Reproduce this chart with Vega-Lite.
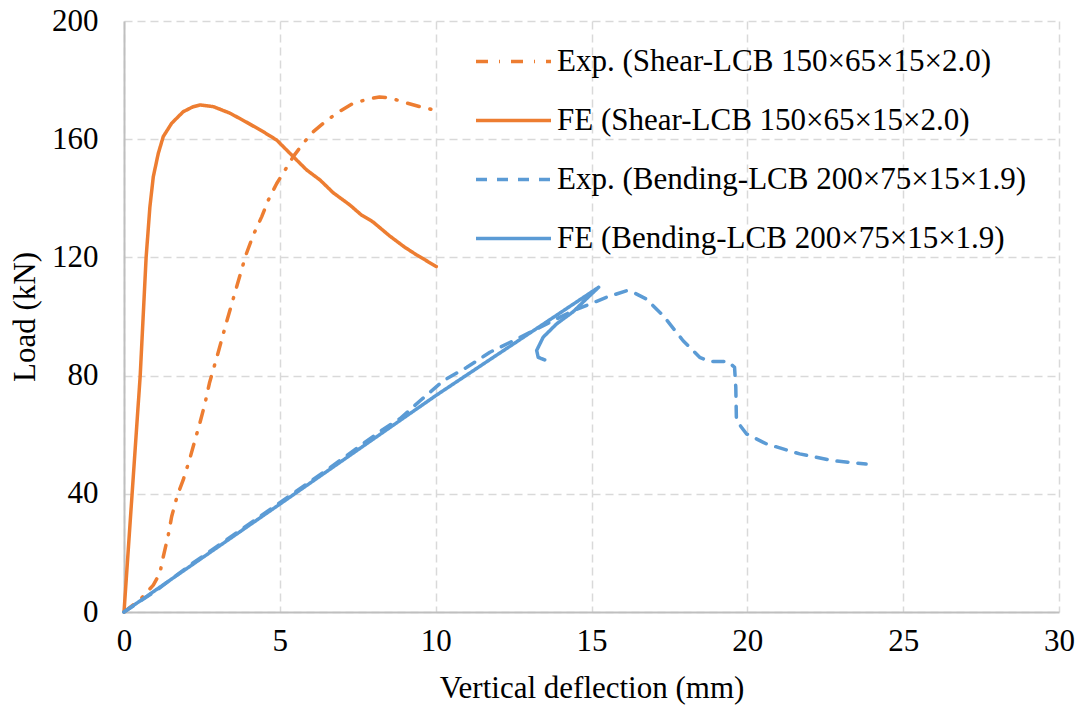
{
  "$schema": "https://vega.github.io/schema/vega-lite/v6.json",
  "width": 935,
  "height": 591,
  "autosize": {"type": "none"},
  "padding": {"left": 124, "top": 21, "right": 22, "bottom": 99},
  "background": "white",
  "data": {"values": [
    {"s": "Exp. (Shear-LCB 150×65×15×2.0)", "i": 0, "d": 0, "load": 0},
    {"s": "Exp. (Shear-LCB 150×65×15×2.0)", "i": 1, "d": 0.51, "load": 4.1},
    {"s": "Exp. (Shear-LCB 150×65×15×2.0)", "i": 2, "d": 0.94, "load": 9.1},
    {"s": "Exp. (Shear-LCB 150×65×15×2.0)", "i": 3, "d": 1.15, "load": 13.1},
    {"s": "Exp. (Shear-LCB 150×65×15×2.0)", "i": 4, "d": 1.26, "load": 18.7},
    {"s": "Exp. (Shear-LCB 150×65×15×2.0)", "i": 5, "d": 1.42, "load": 26},
    {"s": "Exp. (Shear-LCB 150×65×15×2.0)", "i": 6, "d": 1.53, "load": 32.3},
    {"s": "Exp. (Shear-LCB 150×65×15×2.0)", "i": 7, "d": 1.71, "load": 39.4},
    {"s": "Exp. (Shear-LCB 150×65×15×2.0)", "i": 8, "d": 1.9, "load": 44.7},
    {"s": "Exp. (Shear-LCB 150×65×15×2.0)", "i": 9, "d": 2.11, "load": 51.8},
    {"s": "Exp. (Shear-LCB 150×65×15×2.0)", "i": 10, "d": 2.28, "load": 58.2},
    {"s": "Exp. (Shear-LCB 150×65×15×2.0)", "i": 11, "d": 2.44, "load": 64.2},
    {"s": "Exp. (Shear-LCB 150×65×15×2.0)", "i": 12, "d": 2.6, "load": 70.6},
    {"s": "Exp. (Shear-LCB 150×65×15×2.0)", "i": 13, "d": 2.74, "load": 77.4},
    {"s": "Exp. (Shear-LCB 150×65×15×2.0)", "i": 14, "d": 3.0, "load": 87},
    {"s": "Exp. (Shear-LCB 150×65×15×2.0)", "i": 15, "d": 3.3, "load": 98.5},
    {"s": "Exp. (Shear-LCB 150×65×15×2.0)", "i": 16, "d": 3.6, "load": 109.5},
    {"s": "Exp. (Shear-LCB 150×65×15×2.0)", "i": 17, "d": 3.91, "load": 120.8},
    {"s": "Exp. (Shear-LCB 150×65×15×2.0)", "i": 18, "d": 4.15, "load": 127.6},
    {"s": "Exp. (Shear-LCB 150×65×15×2.0)", "i": 19, "d": 4.42, "load": 133.8},
    {"s": "Exp. (Shear-LCB 150×65×15×2.0)", "i": 20, "d": 4.63, "load": 139.4},
    {"s": "Exp. (Shear-LCB 150×65×15×2.0)", "i": 21, "d": 4.9, "load": 145},
    {"s": "Exp. (Shear-LCB 150×65×15×2.0)", "i": 22, "d": 5.17, "load": 149.6},
    {"s": "Exp. (Shear-LCB 150×65×15×2.0)", "i": 23, "d": 5.43, "load": 154.1},
    {"s": "Exp. (Shear-LCB 150×65×15×2.0)", "i": 24, "d": 5.75, "load": 158.6},
    {"s": "Exp. (Shear-LCB 150×65×15×2.0)", "i": 25, "d": 6.07, "load": 162.5},
    {"s": "Exp. (Shear-LCB 150×65×15×2.0)", "i": 26, "d": 6.5, "load": 166.3},
    {"s": "Exp. (Shear-LCB 150×65×15×2.0)", "i": 27, "d": 6.9, "load": 169.3},
    {"s": "Exp. (Shear-LCB 150×65×15×2.0)", "i": 28, "d": 7.35, "load": 172.1},
    {"s": "Exp. (Shear-LCB 150×65×15×2.0)", "i": 29, "d": 7.8, "load": 173.5},
    {"s": "Exp. (Shear-LCB 150×65×15×2.0)", "i": 30, "d": 8.2, "load": 174.3},
    {"s": "Exp. (Shear-LCB 150×65×15×2.0)", "i": 31, "d": 8.52, "load": 174},
    {"s": "Exp. (Shear-LCB 150×65×15×2.0)", "i": 32, "d": 9.06, "load": 172.3},
    {"s": "Exp. (Shear-LCB 150×65×15×2.0)", "i": 33, "d": 9.5, "load": 171},
    {"s": "Exp. (Shear-LCB 150×65×15×2.0)", "i": 34, "d": 9.9, "load": 170},

    {"s": "FE (Shear-LCB 150×65×15×2.0)", "i": 0, "d": 0, "load": 0},
    {"s": "FE (Shear-LCB 150×65×15×2.0)", "i": 1, "d": 0.26, "load": 40},
    {"s": "FE (Shear-LCB 150×65×15×2.0)", "i": 2, "d": 0.52, "load": 80},
    {"s": "FE (Shear-LCB 150×65×15×2.0)", "i": 3, "d": 0.71, "load": 120},
    {"s": "FE (Shear-LCB 150×65×15×2.0)", "i": 4, "d": 0.83, "load": 137},
    {"s": "FE (Shear-LCB 150×65×15×2.0)", "i": 5, "d": 0.94, "load": 147.3},
    {"s": "FE (Shear-LCB 150×65×15×2.0)", "i": 6, "d": 1.1, "load": 155.2},
    {"s": "FE (Shear-LCB 150×65×15×2.0)", "i": 7, "d": 1.26, "load": 160.9},
    {"s": "FE (Shear-LCB 150×65×15×2.0)", "i": 8, "d": 1.53, "load": 165.4},
    {"s": "FE (Shear-LCB 150×65×15×2.0)", "i": 9, "d": 1.9, "load": 169.3},
    {"s": "FE (Shear-LCB 150×65×15×2.0)", "i": 10, "d": 2.2, "load": 170.9},
    {"s": "FE (Shear-LCB 150×65×15×2.0)", "i": 11, "d": 2.44, "load": 171.6},
    {"s": "FE (Shear-LCB 150×65×15×2.0)", "i": 12, "d": 2.87, "load": 171},
    {"s": "FE (Shear-LCB 150×65×15×2.0)", "i": 13, "d": 3.4, "load": 168.8},
    {"s": "FE (Shear-LCB 150×65×15×2.0)", "i": 14, "d": 3.94, "load": 165.7},
    {"s": "FE (Shear-LCB 150×65×15×2.0)", "i": 15, "d": 4.47, "load": 162.5},
    {"s": "FE (Shear-LCB 150×65×15×2.0)", "i": 16, "d": 4.9, "load": 159.7},
    {"s": "FE (Shear-LCB 150×65×15×2.0)", "i": 17, "d": 5.43, "load": 154.1},
    {"s": "FE (Shear-LCB 150×65×15×2.0)", "i": 18, "d": 5.86, "load": 149.6},
    {"s": "FE (Shear-LCB 150×65×15×2.0)", "i": 19, "d": 6.29, "load": 146.2},
    {"s": "FE (Shear-LCB 150×65×15×2.0)", "i": 20, "d": 6.71, "load": 141.9},
    {"s": "FE (Shear-LCB 150×65×15×2.0)", "i": 21, "d": 7.24, "load": 137.8},
    {"s": "FE (Shear-LCB 150×65×15×2.0)", "i": 22, "d": 7.6, "load": 134.5},
    {"s": "FE (Shear-LCB 150×65×15×2.0)", "i": 23, "d": 7.99, "load": 132},
    {"s": "FE (Shear-LCB 150×65×15×2.0)", "i": 24, "d": 8.52, "load": 127.3},
    {"s": "FE (Shear-LCB 150×65×15×2.0)", "i": 25, "d": 9.0, "load": 123.5},
    {"s": "FE (Shear-LCB 150×65×15×2.0)", "i": 26, "d": 9.38, "load": 120.9},
    {"s": "FE (Shear-LCB 150×65×15×2.0)", "i": 27, "d": 10.02, "load": 116.9},

    {"s": "Exp. (Bending-LCB 200×75×15×1.9)", "i": 0, "d": 0, "load": 0},
    {"s": "Exp. (Bending-LCB 200×75×15×1.9)", "i": 1, "d": 1, "load": 7},
    {"s": "Exp. (Bending-LCB 200×75×15×1.9)", "i": 2, "d": 2.2, "load": 16.5},
    {"s": "Exp. (Bending-LCB 200×75×15×1.9)", "i": 3, "d": 3.5, "load": 26},
    {"s": "Exp. (Bending-LCB 200×75×15×1.9)", "i": 4, "d": 5, "load": 37},
    {"s": "Exp. (Bending-LCB 200×75×15×1.9)", "i": 5, "d": 6.5, "load": 48},
    {"s": "Exp. (Bending-LCB 200×75×15×1.9)", "i": 6, "d": 8.2, "load": 61},
    {"s": "Exp. (Bending-LCB 200×75×15×1.9)", "i": 7, "d": 8.86, "load": 65.5},
    {"s": "Exp. (Bending-LCB 200×75×15×1.9)", "i": 8, "d": 9.5, "load": 71.5},
    {"s": "Exp. (Bending-LCB 200×75×15×1.9)", "i": 9, "d": 10.25, "load": 78.3},
    {"s": "Exp. (Bending-LCB 200×75×15×1.9)", "i": 10, "d": 11, "load": 82.8},
    {"s": "Exp. (Bending-LCB 200×75×15×1.9)", "i": 11, "d": 11.74, "load": 87.9},
    {"s": "Exp. (Bending-LCB 200×75×15×1.9)", "i": 12, "d": 12.49, "load": 91.8},
    {"s": "Exp. (Bending-LCB 200×75×15×1.9)", "i": 13, "d": 13.34, "load": 96.3},
    {"s": "Exp. (Bending-LCB 200×75×15×1.9)", "i": 14, "d": 13.98, "load": 99.7},
    {"s": "Exp. (Bending-LCB 200×75×15×1.9)", "i": 15, "d": 14.41, "load": 102},
    {"s": "Exp. (Bending-LCB 200×75×15×1.9)", "i": 16, "d": 14.95, "load": 104.2},
    {"s": "Exp. (Bending-LCB 200×75×15×1.9)", "i": 17, "d": 15.48, "load": 106.5},
    {"s": "Exp. (Bending-LCB 200×75×15×1.9)", "i": 18, "d": 16.12, "load": 108.7},
    {"s": "Exp. (Bending-LCB 200×75×15×1.9)", "i": 19, "d": 16.33, "load": 108.2},
    {"s": "Exp. (Bending-LCB 200×75×15×1.9)", "i": 20, "d": 16.76, "load": 105.9},
    {"s": "Exp. (Bending-LCB 200×75×15×1.9)", "i": 21, "d": 17.3, "load": 100.3},
    {"s": "Exp. (Bending-LCB 200×75×15×1.9)", "i": 22, "d": 17.94, "load": 91.8},
    {"s": "Exp. (Bending-LCB 200×75×15×1.9)", "i": 23, "d": 18.47, "load": 86.2},
    {"s": "Exp. (Bending-LCB 200×75×15×1.9)", "i": 24, "d": 18.79, "load": 84.8},
    {"s": "Exp. (Bending-LCB 200×75×15×1.9)", "i": 25, "d": 19.38, "load": 84.8},
    {"s": "Exp. (Bending-LCB 200×75×15×1.9)", "i": 26, "d": 19.59, "load": 82.8},
    {"s": "Exp. (Bending-LCB 200×75×15×1.9)", "i": 27, "d": 19.63, "load": 76},
    {"s": "Exp. (Bending-LCB 200×75×15×1.9)", "i": 28, "d": 19.65, "load": 64.8},
    {"s": "Exp. (Bending-LCB 200×75×15×1.9)", "i": 29, "d": 19.97, "load": 60.3},
    {"s": "Exp. (Bending-LCB 200×75×15×1.9)", "i": 30, "d": 20.61, "load": 56.9},
    {"s": "Exp. (Bending-LCB 200×75×15×1.9)", "i": 31, "d": 21.68, "load": 53.5},
    {"s": "Exp. (Bending-LCB 200×75×15×1.9)", "i": 32, "d": 22.75, "load": 51.2},
    {"s": "Exp. (Bending-LCB 200×75×15×1.9)", "i": 33, "d": 23.81, "load": 50.1},

    {"s": "FE (Bending-LCB 200×75×15×1.9)", "i": 0, "d": 0, "load": 0},
    {"s": "FE (Bending-LCB 200×75×15×1.9)", "i": 1, "d": 5, "load": 36.5},
    {"s": "FE (Bending-LCB 200×75×15×1.9)", "i": 2, "d": 10, "load": 73.2},
    {"s": "FE (Bending-LCB 200×75×15×1.9)", "i": 3, "d": 15.23, "load": 109.9},
    {"s": "FE (Bending-LCB 200×75×15×1.9)", "i": 4, "d": 14.8, "load": 105.6},
    {"s": "FE (Bending-LCB 200×75×15×1.9)", "i": 5, "d": 14.41, "load": 101.6},
    {"s": "FE (Bending-LCB 200×75×15×1.9)", "i": 6, "d": 13.88, "load": 97.5},
    {"s": "FE (Bending-LCB 200×75×15×1.9)", "i": 7, "d": 13.45, "load": 93},
    {"s": "FE (Bending-LCB 200×75×15×1.9)", "i": 8, "d": 13.24, "load": 88.5},
    {"s": "FE (Bending-LCB 200×75×15×1.9)", "i": 9, "d": 13.29, "load": 86.2},
    {"s": "FE (Bending-LCB 200×75×15×1.9)", "i": 10, "d": 13.5, "load": 85.3}
  ]},
  "mark": {"type": "line", "strokeWidth": 3.5, "strokeCap": "round", "strokeJoin": "round", "clip": false},
  "encoding": {
    "x": {
      "field": "d", "type": "quantitative",
      "scale": {"domain": [0, 30], "nice": false},
      "axis": {"values": [0, 5, 10, 15, 20, 25, 30], "title": "Vertical deflection (mm)", "labelPadding": 14, "titlePadding": 17, "labelFlush": false}
    },
    "y": {
      "field": "load", "type": "quantitative",
      "scale": {"domain": [0, 200], "nice": false},
      "axis": {"values": [0, 40, 80, 120, 160, 200], "title": "Load (kN)", "labelPadding": 26, "titlePadding": 10, "labelFlush": false}
    },
    "color": {
      "field": "s", "type": "nominal",
      "scale": {
        "domain": ["Exp. (Shear-LCB 150×65×15×2.0)", "FE (Shear-LCB 150×65×15×2.0)", "Exp. (Bending-LCB 200×75×15×1.9)", "FE (Bending-LCB 200×75×15×1.9)"],
        "range": ["#ED7D31", "#ED7D31", "#5B9BD5", "#5B9BD5"]
      },
      "legend": {"orient": "none", "legendX": 374, "legendY": 25}
    },
    "strokeDash": {
      "field": "s", "type": "nominal",
      "scale": {
        "domain": ["Exp. (Shear-LCB 150×65×15×2.0)", "FE (Shear-LCB 150×65×15×2.0)", "Exp. (Bending-LCB 200×75×15×1.9)", "FE (Bending-LCB 200×75×15×1.9)"],
        "range": [[12, 11, 1, 11], [1, 0], [11, 10], [1, 0]]
      },
      "legend": {"orient": "none", "legendX": 374, "legendY": 25}
    },
    "order": {"field": "i", "type": "quantitative"}
  },
  "config": {
    "font": "Liberation Serif",
    "view": {"stroke": null},
    "axis": {
      "labelFont": "Liberation Serif", "labelFontSize": 31, "labelColor": "#000000",
      "titleFont": "Liberation Serif", "titleFontSize": 31, "titleFontWeight": "normal", "titleColor": "#000000",
      "ticks": false,
      "domainColor": "#bfbfbf", "domainWidth": 2,
      "grid": true, "gridColor": "#d9d9d9", "gridWidth": 1.5, "gridDash": [8, 5]
    },
    "legend": {
      "title": null,
      "padding": 0,
      "symbolType": "M-3,0L3,0",
      "symbolSize": 625,
      "symbolStrokeWidth": 3.5,
      "labelFont": "Liberation Serif", "labelFontSize": 31, "labelColor": "#000000",
      "labelOffset": 28, "rowPadding": 27, "labelLimit": 800
    }
  }
}
